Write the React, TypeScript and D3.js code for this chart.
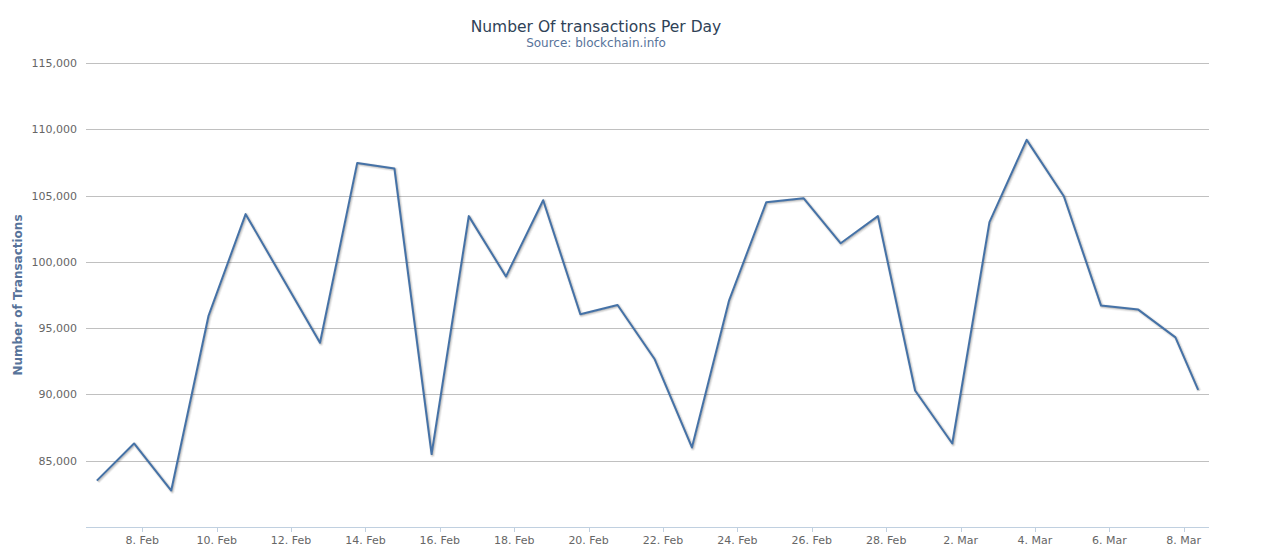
import React from 'react';
import * as d3 from 'd3';

// data (times are UTC, one sample per day)
const dates = [
  '2015-02-06T18:40', '2015-02-07T18:40', '2015-02-08T18:40', '2015-02-09T18:40',
  '2015-02-10T18:40', '2015-02-12T18:40', '2015-02-13T18:40', '2015-02-14T18:40',
  '2015-02-15T18:40', '2015-02-16T18:40', '2015-02-17T18:40', '2015-02-18T18:40',
  '2015-02-19T18:40', '2015-02-20T18:40', '2015-02-21T18:40', '2015-02-22T18:40',
  '2015-02-23T18:40', '2015-02-24T18:40', '2015-02-25T18:40', '2015-02-26T18:40',
  '2015-02-27T18:40', '2015-02-28T18:40', '2015-03-01T18:40', '2015-03-02T18:40',
  '2015-03-03T18:40', '2015-03-04T18:40', '2015-03-05T18:40', '2015-03-06T18:40',
  '2015-03-07T18:40', '2015-03-08T09:20',
];
const transactions = [
  83500, 86300, 82750, 95900,
  103600, 93900, 107450, 107050,
  85500, 103450, 98900, 104650,
  96050, 96750, 92650, 86000,
  97100, 104500, 104800, 101400,
  103450, 90300, 86300, 103000,
  109200, 104950, 96700, 96400,
  94300, 90350,
];
const yTicks = [85000, 90000, 95000, 100000, 105000, 110000, 115000];

const title = 'Number Of transactions Per Day';
const subtitle = 'Source: blockchain.info';
const yTitle = 'Number of Transactions';

const W = 1270;
const H = 559;
const margin = { top: 63, right: 61, bottom: 32, left: 86 };
const font = '"DejaVu Sans", Verdana, sans-serif';

const App = () => {
  const parse = d3.utcParse('%Y-%m-%dT%H:%M');
  const points = dates.map((d, i) => ({ t: parse(d) as Date, v: transactions[i] }));

  const first = points[0].t;
  const last = points[points.length - 1].t;
  const x = d3.scaleUtc()
    .domain([d3.utcHour.offset(first, -7), d3.utcHour.offset(last, 7)])
    .range([margin.left, W - margin.right]);
  const y = d3.scaleLinear()
    .domain([80000, 115000])
    .range([H - margin.bottom, margin.top]);

  const xTicks = d3.utcDay.range(d3.utcDay.ceil(d3.utcDay.offset(first, 1)), x.domain()[1], 2);
  const fmtX = d3.utcFormat('%-d. %b');
  const fmtY = d3.format(',');

  const line = d3.line<{ t: Date; v: number }>()
    .x(d => x(d.t))
    .y(d => y(d.v));
  const path = line(points) || '';

  const plotBottom = H - margin.bottom;

  return (
    <svg width={W} height={H} style={{ position: 'absolute', left: 0, top: 0, fontFamily: font }}>
      <rect width={W} height={H} fill="#fff" />
      <defs>
        <clipPath id="plot">
          <rect x={margin.left} y={margin.top - 10} width={W - margin.left - margin.right} height={plotBottom - margin.top + 20} />
        </clipPath>
      </defs>

      <text x={596} y={32} textAnchor="middle" fontSize={15.5} fill="#2f4257">{title}</text>
      <text x={596} y={47} textAnchor="middle" fontSize={12} fill="#57739a">{subtitle}</text>

      {yTicks.map(t => (
        <g key={t}>
          <line x1={margin.left} x2={W - margin.right} y1={Math.round(y(t)) + 0.5} y2={Math.round(y(t)) + 0.5} stroke="#c0c0c0" />
          <text x={77} y={y(t) + 4} textAnchor="end" fontSize={11} fill="#666">{fmtY(t)}</text>
        </g>
      ))}

      <text
        transform={`translate(22,${(margin.top + plotBottom) / 2}) rotate(-90)`}
        textAnchor="middle"
        fontSize={12}
        fontWeight="bold"
        fill="#57739a"
      >{yTitle}</text>

      <line x1={margin.left} x2={W - margin.right} y1={plotBottom + 0.5} y2={plotBottom + 0.5} stroke="#c0d0e0" />
      {xTicks.map(t => (
        <g key={+t}>
          <line x1={Math.round(x(t)) + 0.5} x2={Math.round(x(t)) + 0.5} y1={plotBottom} y2={plotBottom + 5} stroke="#c0d0e0" />
          <text x={x(t)} y={plotBottom + 17} textAnchor="middle" fontSize={11} fill="#666">{fmtX(t)}</text>
        </g>
      ))}

      <g clipPath="url(#plot)">
        {[1, 2, 3].map(i => (
          <path key={i} d={path} fill="none" stroke="#000" strokeOpacity={0.05 * i}
            strokeWidth={7 - 2 * i} transform="translate(1,1)" strokeLinejoin="round" />
        ))}
        <path d={path} fill="none" stroke="#4572a7" strokeWidth={2} strokeLinejoin="round" />
      </g>
    </svg>
  );
};

export default App;
